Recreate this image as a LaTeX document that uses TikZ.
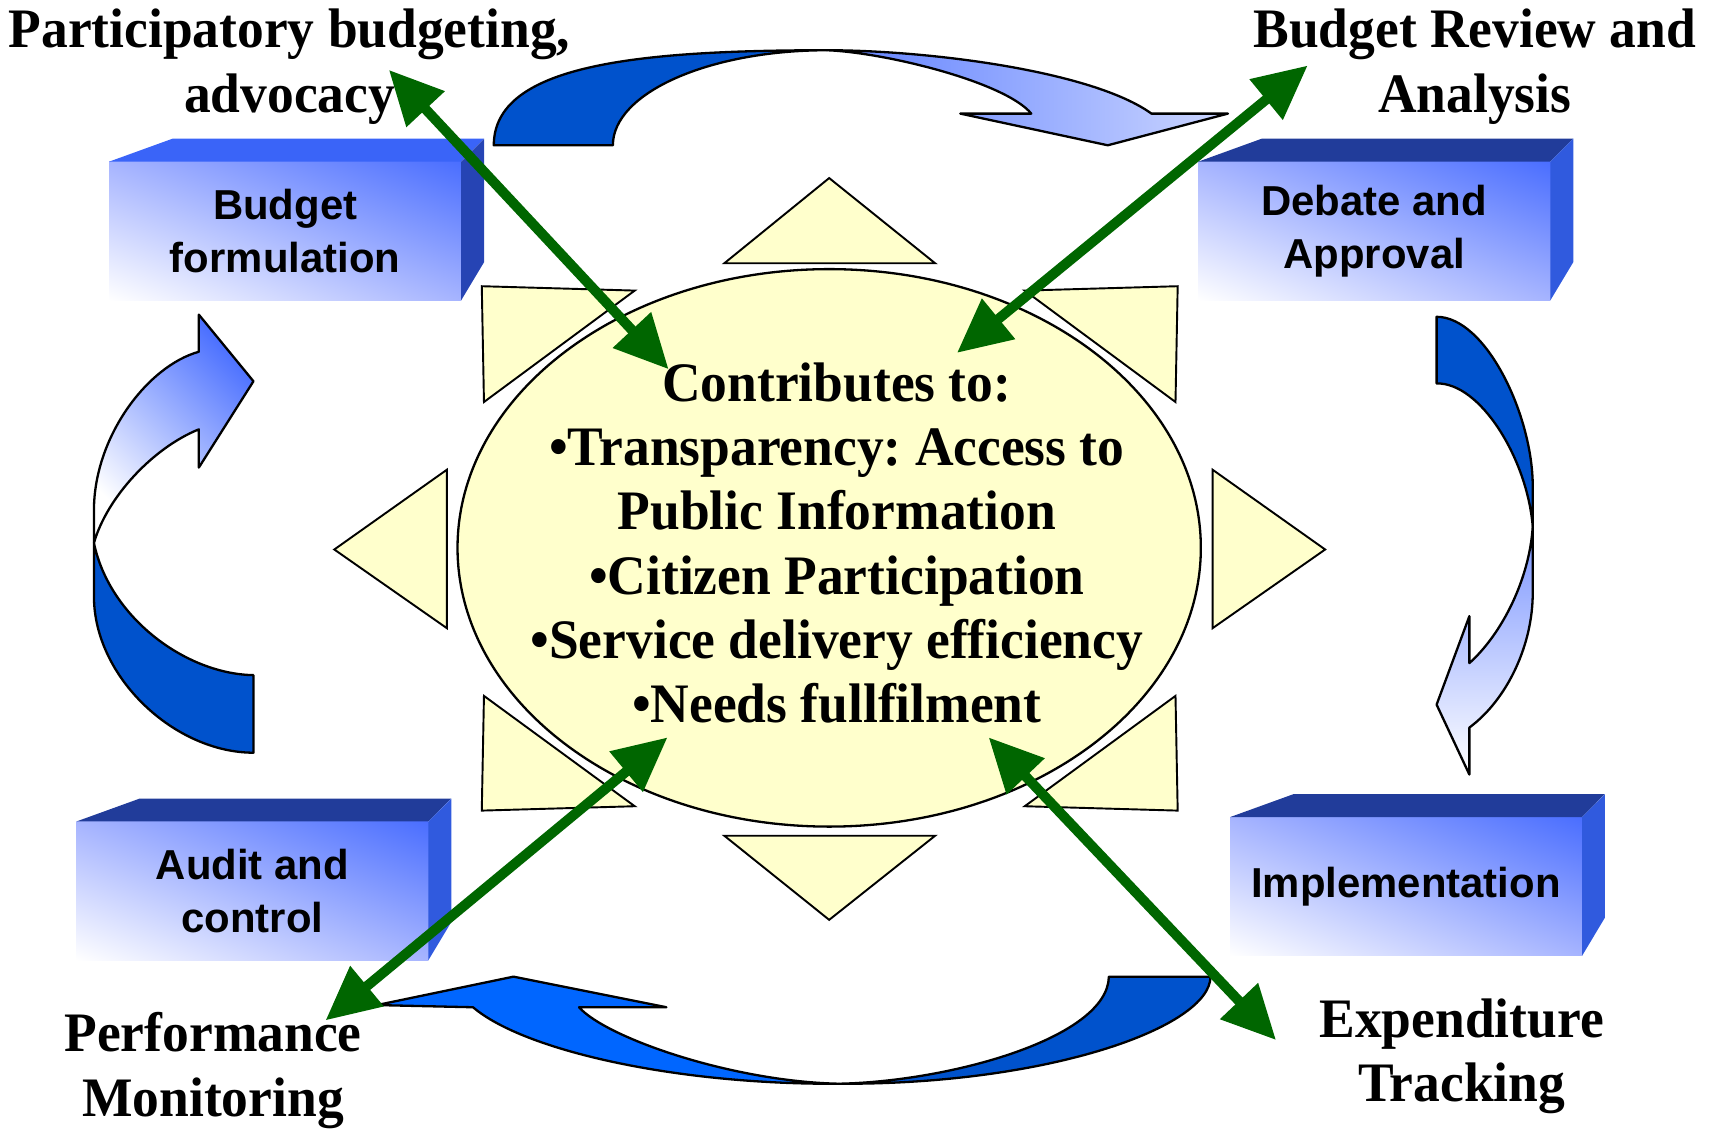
\documentclass[tikz,border=0pt]{standalone}
\usepackage{fontspec}
\newfontfamily\stagefont{Liberation Sans}
\newfontfamily\rolefont[FakeStretch=0.96]{Liberation Serif}
\usetikzlibrary{arrows.meta,shapes.geometric,shadings}
\definecolor{bandDark}{HTML}{0052CC}
\definecolor{bandBright}{HTML}{0066FF}
\definecolor{sheenTop}{HTML}{5F80FF}
\definecolor{sheenPale}{HTML}{CCD6FF}
\definecolor{sheenRight}{HTML}{7B95FF}
\definecolor{sheenLeft}{HTML}{4A6FFF}
\definecolor{sunFill}{HTML}{FFFFCC}
\definecolor{linkGreen}{HTML}{006600}
\definecolor{topBright}{HTML}{3A64F8}
\definecolor{topDark}{HTML}{213C9A}
\definecolor{sideBright}{HTML}{305ADE}
\definecolor{sideDark}{HTML}{2644B4}
\definecolor{faceHigh}{HTML}{4A6EFF}
\definecolor{faceMid}{HTML}{A6B4FF}
\tikzset{
    stageface/.style={shade,upper left=faceMid,upper right=faceHigh,lower left=white,lower right=faceMid,
        minimum width=3.22cm,minimum height=1.27cm,inner sep=0pt,outer sep=0pt,
        align=center,font=\stagefont\bfseries\fontsize{10.9}{13.7}\selectfont},
    roletext/.style={align=center,font=\rolefont\bfseries\frenchspacing\fontsize{14.5}{16.7}\selectfont},
    ray/.style={draw=black,line width=0.5pt,fill=sunFill},
    band/.style={draw=black,line width=0.6pt,line join=round},
    link/.style={draw=linkGreen,line width=2.6pt,{Triangle[length=14pt,width=13pt]}-{Triangle[length=14pt,width=13pt]}},
}
\begin{document}
\begin{tikzpicture}[x=0.01cm,y=-0.01cm]
        \useasboundingbox (0,0) rectangle (1568,1033.4);
        %% top curved arrow
        \draw[band,fill=bandDark] (452,133) .. controls (452,60) and (580,46) .. (757,46) .. controls (649,46) and (561,85) .. (561,133) -- cycle;
        \draw[band,left color=sheenTop,right color=sheenPale] (757,46) .. controls (850,46) and (1000,65) .. (1054,104) -- (1124,104) -- (1014,133) -- (879,104) -- (944,104) .. controls (920,75) and (810,48) .. (757,46) -- cycle;
        %% right curved arrow
        \draw[band,fill=bandDark] (1315,290) .. controls (1360,290) and (1403,380) .. (1403,445) -- (1403,482) .. controls (1398,420) and (1355,350) .. (1315,351) -- cycle;
        \draw[band,top color=sheenRight,bottom color=white] (1403,482) .. controls (1400,530) and (1375,580) .. (1345,607) -- (1345,564) -- (1315,645) -- (1345,709) -- (1345,666) .. controls (1380,640) and (1403,590) .. (1403,543) -- cycle;
        %% bottom curved arrow
        \draw[band,fill=bandDark] (1108,894) .. controls (1108,940) and (960,993) .. (768,992) .. controls (870,990) and (1014,950) .. (1015,894) -- cycle;
        \draw[band,fill=bandBright] (768,992) .. controls (620,993) and (480,962) .. (433,922) -- (345,920) -- (470,894) -- (610,922) -- (530,922) .. controls (555,950) and (670,990) .. (768,992) -- cycle;
        %% left curved arrow
        \draw[band,fill=bandDark] (232,689) .. controls (160,689) and (86,620) .. (86,546) -- (86,497) .. controls (100,565) and (170,617) .. (232,618) -- cycle;
        \draw[band,top color=sheenLeft,bottom color=white,shading angle=-45] (86,497) .. controls (98,455) and (140,410) .. (182,393) -- (182,428) -- (232,349) -- (182,288) -- (182,322) .. controls (135,335) and (86,400) .. (86,467) -- cycle;
        %% stages
        \node[stageface] (formulation) at (261,211.5) {Budget\\formulation};
        \fill[topBright] (formulation.north west) -- ++(58,-21) -- ++(285,0) -- (formulation.north east) -- cycle;
        \fill[sideDark] (formulation.north east) -- ++(21,-21) -- ++(0,113) -- (formulation.south east) -- cycle;
        \node[stageface] (approval) at (1258,211.5) {Debate and\\Approval};
        \fill[topDark] (approval.north west) -- ++(58,-21) -- ++(285,0) -- (approval.north east) -- cycle;
        \fill[sideBright] (approval.north east) -- ++(21,-21) -- ++(0,113) -- (approval.south east) -- cycle;
        \node[stageface] (audit) at (231,815.5) {Audit and\\control};
        \fill[topDark] (audit.north west) -- ++(58,-21) -- ++(285,0) -- (audit.north east) -- cycle;
        \fill[sideBright] (audit.north east) -- ++(21,-21) -- ++(0,113) -- (audit.south east) -- cycle;
        \node[stageface] (implementation) at (1287,811.5) {Implementation};
        \fill[topDark] (implementation.north west) -- ++(58,-21) -- ++(285,0) -- (implementation.north east) -- cycle;
        \fill[sideBright] (implementation.north east) -- ++(21,-21) -- ++(0,113) -- (implementation.south east) -- cycle;
        %% rays round the core
        \draw[ray] (663,241) -- (759,163) -- (856,241) -- cycle;
        \draw[ray] (663,765) -- (759,842) -- (856,765) -- cycle;
        \draw[ray] (409,430) -- (306,503) -- (409,575) -- cycle;
        \draw[ray] (1110,430) -- (1213,503) -- (1110,575) -- cycle;
        \draw[ray] (441,262) -- (581,266) -- (443,368) -- cycle;
        \draw[ray] (1078,262) -- (938,266) -- (1076,368) -- cycle;
        \draw[ray] (441,742) -- (581,738) -- (443,637) -- cycle;
        \draw[ray] (1078,742) -- (938,738) -- (1076,637) -- cycle;
        %% core
        \node[draw,ellipse,fill=sunFill,line width=0.6pt,minimum width=6.80cm,minimum height=5.10cm,inner sep=0pt,outer sep=0pt] (core) at (759,501.5) {};
        \node[roletext] (benefits) at (766,497) {Contributes to:\\•Transparency: Access to\\Public Information\\•Citizen Participation\\•Service delivery efficiency\\•Needs fullfilment};
        %% roles
        \node[roletext] (participatory) at (265,61) {Participatory budgeting,\\advocacy};
        \node[roletext] (review) at (1350,61) {Budget Review and\\Analysis};
        \node[roletext] (performance) at (195,980) {Performance\\Monitoring};
        \node[roletext] (tracking) at (1338,967) {Expenditure\\Tracking};
        %% green links
        \coordinate (participatoryTip) at (356,64);
        \coordinate (coreNW) at (612,338);
        \coordinate (reviewTip) at (1197,60);
        \coordinate (coreNE) at (876,323);
        \coordinate (coreSW) at (611,675);
        \coordinate (performanceTip) at (298,934);
        \coordinate (coreSE) at (905,675);
        \coordinate (trackingTip) at (1168,952);
        \draw[link] (participatoryTip) -- (coreNW);
        \draw[link] (reviewTip) -- (coreNE);
        \draw[link] (coreSW) -- (performanceTip);
        \draw[link] (coreSE) -- (trackingTip);
    \end{tikzpicture}
\end{document}
